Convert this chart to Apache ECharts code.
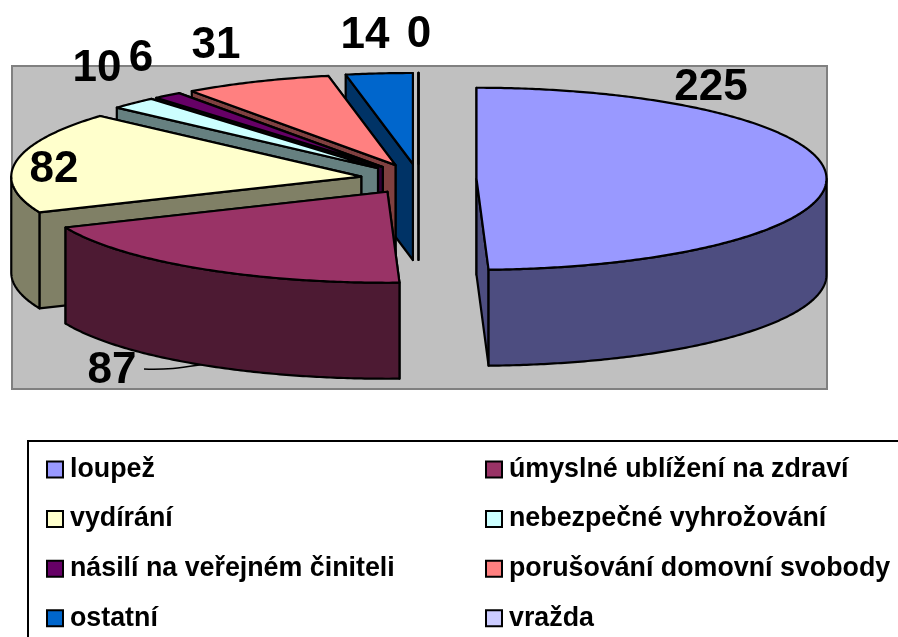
<!DOCTYPE html>
<html>
<head>
<meta charset="utf-8">
<style>html,body{margin:0;padding:0;background:#fff}#c{width:898px;height:637px}</style>
<script src="https://cdn.jsdelivr.net/npm/echarts@6/dist/echarts.min.js"></script>
</head>
<body>
<div id="c"></div>
<script>
const categories = ['loupež','úmyslné ublížení na zdraví','vydírání','nebezpečné vyhrožování','násilí na veřejném činiteli','porušování domovní svobody','ostatní','vražda'];
const values = [225,87,82,10,6,31,14,0];
const colors = ['#9999FF','#993366','#FFFFCC','#CCFFFF','#660066','#FF8080','#0066CC','#CCCCFF'];
const labelCentres = [[711,85],[112,368],[54,167],[97,66],[141,56],[216,43],[365,33],[419,32]];

const total = values.reduce((a,b)=>a+b,0);
const P = {cx:418.5, cy:179, rx:350, ry:91, depth:96, explode:58};
const FONT = '"Liberation Sans", Arial, sans-serif';

function shade(hex){
  const n = parseInt(hex.slice(1),16);
  const h = v => Math.round(v/2).toString(16).padStart(2,'0');
  return '#'+h(n>>16&255)+h(n>>8&255)+h(n&255);
}
function renderSlice(index){
  return function(params, api){
    const value = api.value(0);
    let before = 0;
    for(let i=0;i<index;i++) before += values[i];
    const a0 = before/total*2*Math.PI, a1 = (before+value)/total*2*Math.PI, mid=(a0+a1)/2;
    const k = P.ry/P.rx;
    const ax = P.cx + P.explode*Math.sin(mid), ay = P.cy - P.explode*k*Math.cos(mid);
    const pt = (a,dz)=>[ax+P.rx*Math.sin(a), ay-P.ry*Math.cos(a)+(dz||0)];
    const arc = (s,e,dz)=>{
      const pts=[], n=Math.max(1,Math.ceil((e-s)/0.01));
      for(let i=0;i<=n;i++) pts.push(pt(s+(e-s)*i/n,dz));
      return pts;
    };
    const side = shade(colors[index]);
    const st = (fill)=>({fill:fill, stroke:'#000', lineWidth:2.2, lineJoin:'round'});
    const children = [];
    if(index===1){
      children.push({type:'bezierCurve',
        shape:{x1:144,y1:369,cpx1:170,cpy1:370,cpx2:185,cpy2:367,x2:206,y2:364},
        style:{stroke:'#000',lineWidth:1.5,fill:null}});
    }
    (mid<Math.PI ? [a0,a1] : [a1,a0]).forEach(a=>{
      const e=pt(a), d=pt(a,P.depth);
      children.push({type:'polygon',shape:{points:[[ax,ay],e,d,[ax,ay+P.depth]]},style:st(side)});
    });
    const f0=Math.max(a0,Math.PI/2), f1=Math.min(a1,3*Math.PI/2);
    if(f1>f0){
      children.push({type:'polygon',shape:{points:arc(f0,f1,0).concat(arc(f0,f1,P.depth).reverse())},style:st(side)});
    }
    children.push({type:'polygon',shape:{points:[[ax,ay]].concat(arc(a0,a1,0))},style:st(colors[index])});
    const lc = labelCentres[index];
    children.push({type:'text',x:lc[0],y:lc[1]+3,z2:50,style:{text:String(value),fill:'#000',
      font:'bold 44px '+FONT,align:'center',verticalAlign:'middle'}});
    return {type:'group',children:children};
  };
}
const series = categories.map((name,i)=>({
  type:'custom', name:name, coordinateSystem:'none', silent:true, animation:false,
  z: i===0 ? 10 : 10+categories.length-i,
  itemStyle:{color:colors[i]},
  data:[[values[i]]],
  renderItem:renderSlice(i)
}));
const legendBase = {orient:'vertical',icon:'rect',itemWidth:16,itemHeight:16,itemGap:22.6,padding:0,selectedMode:false,height:190,
  itemStyle:{borderColor:'#000',borderWidth:2},
  textStyle:{fontFamily:FONT,fontWeight:'bold',fontSize:26.8,color:'#000',padding:[0,0,0,2]}};
const chart = echarts.init(document.getElementById('c'),null,{renderer:'canvas'});
chart.setOption({
  animation:false,
  backgroundColor:'#fff',
  graphic:[
    {type:'rect',shape:{x:12,y:66,width:815,height:323},style:{fill:'#C0C0C0',stroke:'#808080',lineWidth:2}},
    {type:'rect',shape:{x:28,y:441,width:900,height:230},style:{fill:'#fff',stroke:'#000',lineWidth:2}}
  ],
  legend:[
    Object.assign({},legendBase,{left:46,top:456,data:categories.filter((c,i)=>i%2===0)}),
    Object.assign({},legendBase,{left:485,top:456,data:categories.filter((c,i)=>i%2===1)})
  ],
  series:series
});
</script>
</body>
</html>
